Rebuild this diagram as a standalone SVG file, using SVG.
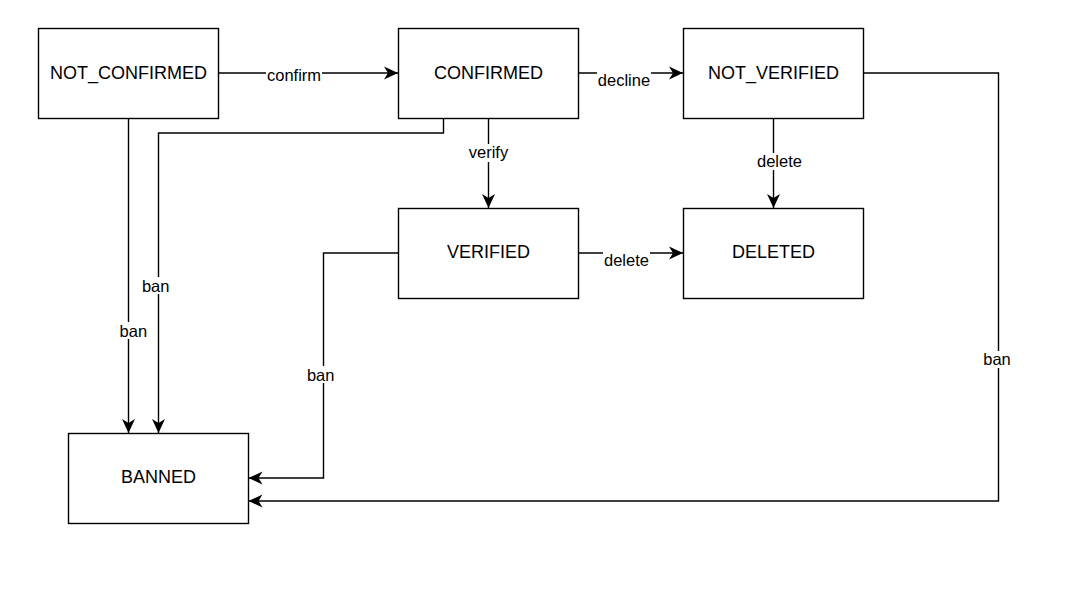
<svg xmlns="http://www.w3.org/2000/svg" width="1081" height="595" viewBox="0 0 1081 595">
<style>
.box{fill:#fff;stroke:#000;stroke-width:1.4}
.edge{fill:none;stroke:#000;stroke-width:1.4}
.t{font-family:"Liberation Sans",Arial,Helvetica,sans-serif;font-size:16.5px;fill:#000;text-anchor:middle}
.n{font-family:"Liberation Sans",Arial,Helvetica,sans-serif;font-size:18px;fill:#000;text-anchor:middle}
.bg{fill:#fff;stroke:none}
</style>
<defs>
<marker id="arr" viewBox="-15 -8 16 16" markerWidth="16" markerHeight="16" refX="0" refY="0" orient="auto" markerUnits="userSpaceOnUse">
<path d="M0,0 L-14,-6.5 L-10,0 L-14,6.5 Z" fill="#000"/>
</marker>
</defs>
<rect width="1081" height="595" fill="#fff"/>
<g id="connectors">
<path class="edge" d="M218.5,73 L398,73" marker-end="url(#arr)"/>
<path class="edge" d="M578.5,73 L683,73" marker-end="url(#arr)"/>
<path class="edge" d="M488.5,118.5 L488.5,208" marker-end="url(#arr)"/>
<path class="edge" d="M773.5,118.5 L773.5,208" marker-end="url(#arr)"/>
<path class="edge" d="M578.5,253 L683,253" marker-end="url(#arr)"/>
<path class="edge" d="M128.5,118.5 L128.5,433" marker-end="url(#arr)"/>
<path class="edge" d="M443.5,118.5 L443.5,133 L158.5,133 L158.5,433" marker-end="url(#arr)"/>
<path class="edge" d="M398.5,253 L323.5,253 L323.5,478 L248.5,478" marker-end="url(#arr)"/>
<path class="edge" d="M863.5,73 L998.5,73 L998.5,501 L248.5,501" marker-end="url(#arr)"/>
<rect class="bg" x="266" y="68" width="56" height="16"/>
<text class="t" x="294" y="81">confirm</text>
<rect class="bg" x="597" y="72" width="54" height="17"/>
<text class="t" x="624" y="86">decline</text>
<rect class="bg" x="468" y="144" width="41" height="18"/>
<text class="t" x="488.5" y="158">verify</text>
<rect class="bg" x="757" y="153" width="46" height="17"/>
<text class="t" x="779.5" y="167">delete</text>
<rect class="bg" x="603" y="252" width="47" height="17"/>
<text class="t" x="626.5" y="265.5">delete</text>
<rect class="bg" x="141" y="277" width="30" height="17"/>
<text class="t" x="155.7" y="291.5">ban</text>
<rect class="bg" x="119" y="322" width="29" height="17"/>
<text class="t" x="133.3" y="336.5">ban</text>
<rect class="bg" x="306" y="366" width="30" height="17"/>
<text class="t" x="320.7" y="380.5">ban</text>
<rect class="bg" x="982" y="351" width="30" height="17"/>
<text class="t" x="997" y="365">ban</text>
</g>
<g id="NOT_CONFIRMED"><rect class="box" x="38.5" y="28.5" width="180" height="90"/><text class="n" x="128.5" y="78.5">NOT_CONFIRMED</text></g>
<g id="CONFIRMED"><rect class="box" x="398.5" y="28.5" width="180" height="90"/><text class="n" x="488.5" y="78.5">CONFIRMED</text></g>
<g id="NOT_VERIFIED"><rect class="box" x="683.5" y="28.5" width="180" height="90"/><text class="n" x="773.5" y="78.5">NOT_VERIFIED</text></g>
<g id="VERIFIED"><rect class="box" x="398.5" y="208.5" width="180" height="90"/><text class="n" x="488.5" y="257.5">VERIFIED</text></g>
<g id="DELETED"><rect class="box" x="683.5" y="208.5" width="180" height="90"/><text class="n" x="773.5" y="257.5">DELETED</text></g>
<g id="BANNED"><rect class="box" x="68.5" y="433.5" width="180" height="90"/><text class="n" x="158.5" y="483">BANNED</text></g>
</svg>
